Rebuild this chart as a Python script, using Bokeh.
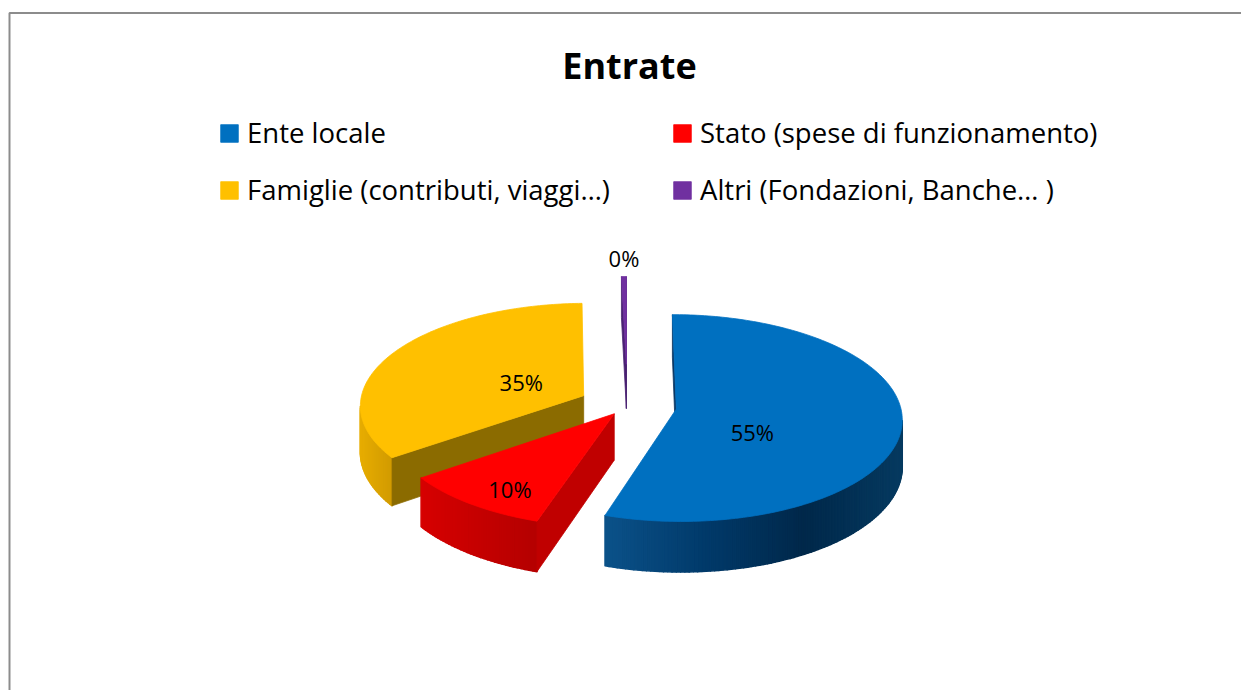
import math
from bokeh.plotting import figure
from bokeh.models import Range1d, Legend, LegendItem, ColumnDataSource
from bokeh.core.properties import value
from bokeh.embed import file_html
from bokeh.resources import INLINE

# ---------------- data ----------------
TITLE = "Entrate"
CATEGORIES = [
    "Ente locale",
    "Stato (spese di funzionamento)",
    "Famiglie (contributi, viaggi…)",
    "Altri (Fondazioni, Banche… )",
]
VALUES = [55.0, 10.0, 34.6, 0.4]

# ---------------- styles ----------------
TOP_COLORS = ["#0070C0", "#FF0000", "#FFC000", "#7030A0"]
SIDE_STOPS = [
    ["#0B5189", "#013A6A", "#00284A", "#063A60"],
    ["#D60000", "#B40000"],
    ["#E6AC00", "#D19A00"],
    ["#4C2275", "#3A1560"],
]
RADIAL_COLORS = ["#0B3763", "#C00000", "#8B6B00", "#4A2272"]
FONT = "Open Sans"

FIG_W, FIG_H = 1241, 690
CX, CY = 627, 405          # pie centre (page px)
RX, RY = 224, 102          # projected radii
DEPTH = 46                 # slice thickness
PERSP = 0.087              # perspective strength
CAM = 1.0 / PERSP
EXPLODE = [0.22, 0.1, 0.22, 0.42]
LABEL_R = [0.34, 0.74, 0.32, None]     # radial position of the in-slice labels
LABEL_D = [0.37, 0.2, 0.0, 0.0]        # vertical position within the slice depth


def project(u, v, d):
    k = 1.0 / (1.0 + PERSP * v)
    return CX + RX * u * k, CY + (-RY * v + DEPTH * d) * k


def hex2rgb(h):
    h = h.lstrip("#")
    return [int(h[i:i + 2], 16) for i in (0, 2, 4)]


def ramp(stops, t):
    t = min(max(t, 0.0), 1.0)
    n = len(stops) - 1
    seg = min(int(t * n), n - 1)
    lt = t * n - seg
    a, b = hex2rgb(stops[seg]), hex2rgb(stops[seg + 1])
    c = [round(a[i] + (b[i] - a[i]) * lt) for i in range(3)]
    return "#%02x%02x%02x" % tuple(c)


p = figure(
    width=FIG_W, height=FIG_H,
    x_range=Range1d(0, FIG_W),
    y_range=Range1d(FIG_H, 0),
    x_axis_type=None, y_axis_type=None,
    output_backend="svg", toolbar_location=None,
    min_border=0,
)
p.outline_line_color = None
p.grid.visible = False

# chart-area border (top and left edges visible in the window)
p.line(x=[9, 9, FIG_W], y=[FIG_H, 12.5, 12.5], line_color="#8C8C8C", line_width=2)

total = sum(VALUES)
slices = []
start = 0.0
for i, v in enumerate(VALUES):
    span = v / total * 360.0
    th1, th2 = start, start + span
    mid = math.radians((th1 + th2) / 2)
    e = EXPLODE[i]
    slices.append(dict(i=i, th1=th1, th2=th2, u0=e * math.sin(mid), v0=e * math.cos(mid)))
    start = th2

order = sorted(slices, key=lambda s: -s["v0"])
top_renderers = {}
label_x, label_y, label_t = [], [], []

for s in order:
    i, th1, th2, u0, v0 = s["i"], s["th1"], s["th2"], s["u0"], s["v0"]

    # curved outer side, in narrow strips
    nstr = max(2, int(math.ceil((th2 - th1) / 1.0)))
    strips = []
    for k in range(nstr):
        ta = math.radians(th1 + (th2 - th1) * k / nstr)
        tb = math.radians(th1 + (th2 - th1) * (k + 1) / nstr)
        tm = (ta + tb) / 2
        vis = -u0 * math.sin(tm) - (CAM + v0) * math.cos(tm) - 1
        if vis <= 0:
            continue
        pts = [project(u0 + math.sin(ta), v0 + math.cos(ta), 0),
               project(u0 + math.sin(tb), v0 + math.cos(tb), 0),
               project(u0 + math.sin(tb), v0 + math.cos(tb), 1),
               project(u0 + math.sin(ta), v0 + math.cos(ta), 1)]
        strips.append(pts)
    if strips:
        xs_all = [pt[0] for st in strips for pt in st]
        xmin, xmax = min(xs_all), max(xs_all)
        sx, sy, sc = [], [], []
        for st in strips:
            xm = sum(pt[0] for pt in st) / 4
            t = (xm - xmin) / (xmax - xmin) if xmax > xmin else 0.5
            col = ramp(SIDE_STOPS[i], t)
            sx.append([pt[0] for pt in st])
            sy.append([pt[1] for pt in st])
            sc.append(col)
        p.patches(xs="xs", ys="ys", fill_color="c", line_color="c", line_width=1.5,
                  line_join="round", source=ColumnDataSource(dict(xs=sx, ys=sy, c=sc)))

    # radial faces
    for th, sign in ((th1, 1), (th2, -1)):
        t = math.radians(th)
        if sign == 1:
            vis = u0 * math.cos(t) - (CAM + v0) * math.sin(t)
        else:
            vis = -u0 * math.cos(t) + (CAM + v0) * math.sin(t)
        if vis <= 0:
            continue
        pts = [project(u0, v0, 0),
               project(u0 + math.sin(t), v0 + math.cos(t), 0),
               project(u0 + math.sin(t), v0 + math.cos(t), 1),
               project(u0, v0, 1)]
        p.patch(x=[pt[0] for pt in pts], y=[pt[1] for pt in pts],
                fill_color=RADIAL_COLORS[i], line_color=RADIAL_COLORS[i], line_width=0.8)

    # top face
    n = max(3, int(math.ceil((th2 - th1) / 1.0)))
    tx, ty = [], []
    cxp, cyp = project(u0, v0, 0)
    tx.append(cxp)
    ty.append(cyp)
    for k in range(n + 1):
        t = math.radians(th1 + (th2 - th1) * k / n)
        x, y = project(u0 + math.sin(t), v0 + math.cos(t), 0)
        tx.append(x)
        ty.append(y)
    r = p.patch(x=tx, y=ty, fill_color=TOP_COLORS[i], line_color=TOP_COLORS[i], line_width=0.8)
    top_renderers[i] = r

    # data label
    pct = VALUES[i] / total * 100
    txt = "%d%%" % round(pct)
    tm = math.radians((th1 + th2) / 2)
    if LABEL_R[i] is not None:
        f = LABEL_R[i]
        lx, ly = project(u0 + f * math.sin(tm), v0 + f * math.cos(tm), LABEL_D[i])
    else:
        lx, ly = project(u0 + math.sin(tm), v0 + math.cos(tm), 0)
        ly -= 19
    label_x.append(lx)
    label_y.append(ly)
    label_t.append(txt)

p.text(x="x", y="y", text="t", source=ColumnDataSource(dict(x=label_x, y=label_y, t=label_t)),
       text_font=value(FONT), text_font_size="22px", text_color="#000000",
       text_align="center", text_baseline="middle")

# title
p.text(x=[629], y=[64.5], text=[TITLE], text_font=value(FONT), text_font_size="36px",
       text_font_style="bold", text_color="#000000", text_align="center",
       text_baseline="middle")

# legend (area glyphs are drawn at 80% of the glyph box)
legend = Legend(
    items=[LegendItem(label=CATEGORIES[i], renderers=[top_renderers[i]]) for i in range(len(CATEGORIES))],
    location=(218, 477), orientation="horizontal", ncols=2,
    glyph_width=22, glyph_height=22, label_standoff=7,
    label_width=414, label_height=47, spacing=10, padding=0, margin=0,
    border_line_color=None, background_fill_alpha=0,
    label_text_font=FONT, label_text_font_size="27.5px", label_text_color="#000000",
)
p.add_layout(legend)

open("out.html", "w").write(file_html(p, INLINE))
